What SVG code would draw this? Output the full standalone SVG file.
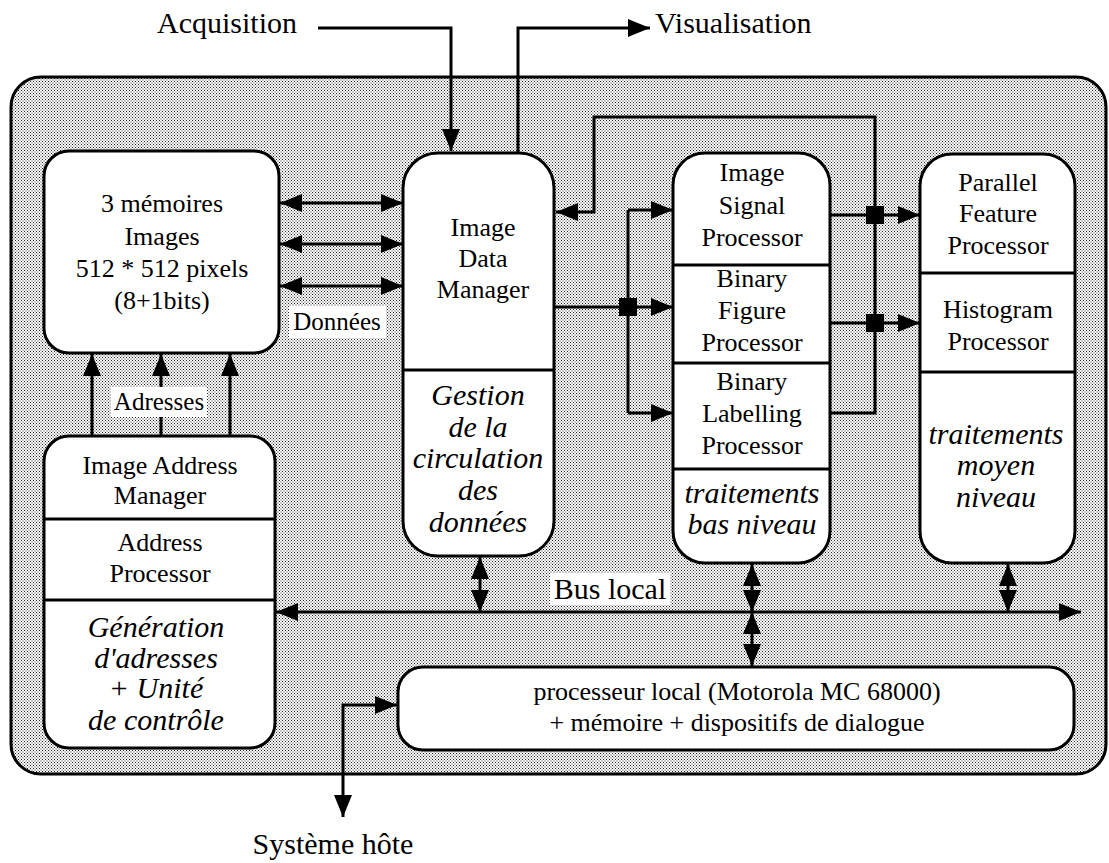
<svg xmlns="http://www.w3.org/2000/svg" width="1109" height="863" viewBox="0 0 1109 863">
<defs>
<pattern id="dots" width="3" height="3" patternUnits="userSpaceOnUse">
<rect width="3" height="3" fill="#ffffff"/>
<rect x="0" y="0" width="1" height="1" fill="#222"/>
<rect x="1.5" y="1.5" width="1" height="1" fill="#222"/>
</pattern>
<marker id="ah" viewBox="0 0 22 18" refX="22" refY="9" markerWidth="22" markerHeight="18" markerUnits="userSpaceOnUse" orient="auto-start-reverse">
<path d="M0,0 L22,9 L0,18 z" fill="#000"/>
</marker>
<style>
.box{fill:#fff;stroke:#000;stroke-width:3}
.div{stroke:#000;stroke-width:3}
.ln{fill:none;stroke:#000;stroke-width:3}
.a1{marker-end:url(#ah)}
.a2{marker-start:url(#ah);marker-end:url(#ah)}
text{font-family:"Liberation Serif","Times New Roman",serif;fill:#000;text-anchor:middle}
text.st{text-anchor:start}
.t{font-size:26px}
.i{font-size:30px;font-style:italic}
.o{font-size:30px}
.lb{font-size:25px}
.bg{fill:#fff}
</style>
</defs>

<g id="container">
<rect x="11" y="77" width="1095" height="697" rx="30" ry="30" fill="url(#dots)" stroke="#000" stroke-width="3"/>
</g>

<g id="connectors">
<path class="ln a1" d="M318,28 H451 V151"/>
<path class="ln a1" d="M518,153 V28 H650"/>
<line class="ln a2" x1="280" y1="203" x2="403" y2="203"/>
<line class="ln a2" x1="280" y1="244" x2="403" y2="244"/>
<line class="ln a2" x1="280" y1="286" x2="403" y2="286"/>
<line class="ln a1" x1="92" y1="436" x2="92" y2="354"/>
<line class="ln a1" x1="161" y1="436" x2="161" y2="354"/>
<line class="ln a1" x1="230" y1="436" x2="230" y2="354"/>
<line class="ln" x1="554" y1="307" x2="628" y2="307"/>
<line class="ln" x1="628" y1="210" x2="628" y2="413"/>
<line class="ln a1" x1="628" y1="210" x2="673" y2="210"/>
<line class="ln a1" x1="628" y1="307" x2="673" y2="307"/>
<line class="ln a1" x1="628" y1="413" x2="673" y2="413"/>
<line class="ln a1" x1="830" y1="215" x2="920" y2="215"/>
<line class="ln a1" x1="830" y1="323" x2="920" y2="323"/>
<path class="ln a1" d="M830,413 H875 V117 H594 V212 H556"/>
<rect x="619" y="298" width="18" height="18" fill="#000"/>
<rect x="866" y="206" width="18" height="18" fill="#000"/>
<rect x="866" y="314" width="18" height="18" fill="#000"/>
<line class="ln a2" x1="276" y1="612" x2="1081" y2="612"/>
<line class="ln a2" x1="480" y1="557" x2="480" y2="612"/>
<line class="ln a2" x1="752" y1="564" x2="752" y2="612"/>
<line class="ln a2" x1="752" y1="612" x2="752" y2="666"/>
<line class="ln a2" x1="1008" y1="564" x2="1008" y2="612"/>
<path class="ln a2" d="M397,705 H343 V817"/>
</g>

<g id="labels">
<text class="o" x="227" y="33">Acquisition</text>
<text class="o st" x="655" y="33">Visualisation</text>
<text class="o" x="333" y="854">Système hôte</text>
<rect class="bg" x="289" y="306" width="97" height="32"/>
<text class="lb" x="337" y="330">Données</text>
<rect class="bg" x="111" y="387" width="96" height="30"/>
<text class="lb" x="159" y="410">Adresses</text>
<rect class="bg" x="550" y="573" width="120" height="32"/>
<text class="o" x="610" y="599">Bus local</text>
</g>

<g id="memoires">
<rect class="box" x="44" y="151" width="235" height="202" rx="25" ry="25"/>
<text class="t" x="162" y="212">3 mémoires</text>
<text class="t" x="162" y="245">Images</text>
<text class="t" x="162" y="277">512 * 512 pixels</text>
<text class="t" x="162" y="309">(8+1bits)</text>
</g>

<g id="iam">
<rect class="box" x="44" y="436" width="231" height="312" rx="25" ry="25"/>
<line class="div" x1="44" y1="519" x2="275" y2="519"/>
<line class="div" x1="44" y1="600" x2="275" y2="600"/>
<text class="t" x="160" y="474">Image Address</text>
<text class="t" x="160" y="504">Manager</text>
<text class="t" x="160" y="551">Address</text>
<text class="t" x="160" y="582">Processor</text>
<text class="i" x="156" y="637">Génération</text>
<text class="i" x="156" y="668">d'adresses</text>
<text class="i" x="156" y="698">+ Unité</text>
<text class="i" x="156" y="730">de contrôle</text>
</g>

<g id="idm">
<rect class="box" x="403" y="153" width="151" height="403" rx="35" ry="35"/>
<line class="div" x1="403" y1="370" x2="554" y2="370"/>
<text class="t" x="483" y="236">Image</text>
<text class="t" x="483" y="267">Data</text>
<text class="t" x="483" y="298">Manager</text>
<text class="i" x="478" y="405">Gestion</text>
<text class="i" x="478" y="437">de la</text>
<text class="i" x="478" y="468">circulation</text>
<text class="i" x="478" y="500">des</text>
<text class="i" x="478" y="532">données</text>
</g>

<g id="low-level">
<rect class="box" x="673" y="153" width="157" height="410" rx="32" ry="32"/>
<line class="div" x1="673" y1="265" x2="830" y2="265"/>
<line class="div" x1="673" y1="363" x2="830" y2="363"/>
<line class="div" x1="673" y1="469" x2="830" y2="469"/>
<text class="t" x="752" y="181">Image</text>
<text class="t" x="752" y="214">Signal</text>
<text class="t" x="752" y="246">Processor</text>
<text class="t" x="752" y="287">Binary</text>
<text class="t" x="752" y="319">Figure</text>
<text class="t" x="752" y="351">Processor</text>
<text class="t" x="752" y="390">Binary</text>
<text class="t" x="752" y="422">Labelling</text>
<text class="t" x="752" y="454">Processor</text>
<text class="i" x="752" y="503" font-size="29">traitements</text>
<text class="i" x="752" y="534" font-size="29">bas niveau</text>
</g>

<g id="mid-level">
<rect class="box" x="920" y="154" width="155" height="409" rx="32" ry="32"/>
<line class="div" x1="920" y1="273" x2="1075" y2="273"/>
<line class="div" x1="920" y1="372" x2="1075" y2="372"/>
<text class="t" x="998" y="191">Parallel</text>
<text class="t" x="998" y="222">Feature</text>
<text class="t" x="998" y="254">Processor</text>
<text class="t" x="998" y="318">Histogram</text>
<text class="t" x="998" y="350">Processor</text>
<text class="i" x="996" y="444">traitements</text>
<text class="i" x="996" y="475">moyen</text>
<text class="i" x="996" y="507">niveau</text>
</g>

<g id="processeur-local">
<rect class="box" x="398" y="667" width="676" height="83" rx="25" ry="25"/>
<text class="t" x="737" y="700">processeur local (Motorola MC 68000)</text>
<text class="t" x="737" y="731">+ mémoire + dispositifs de dialogue</text>
</g>
</svg>
